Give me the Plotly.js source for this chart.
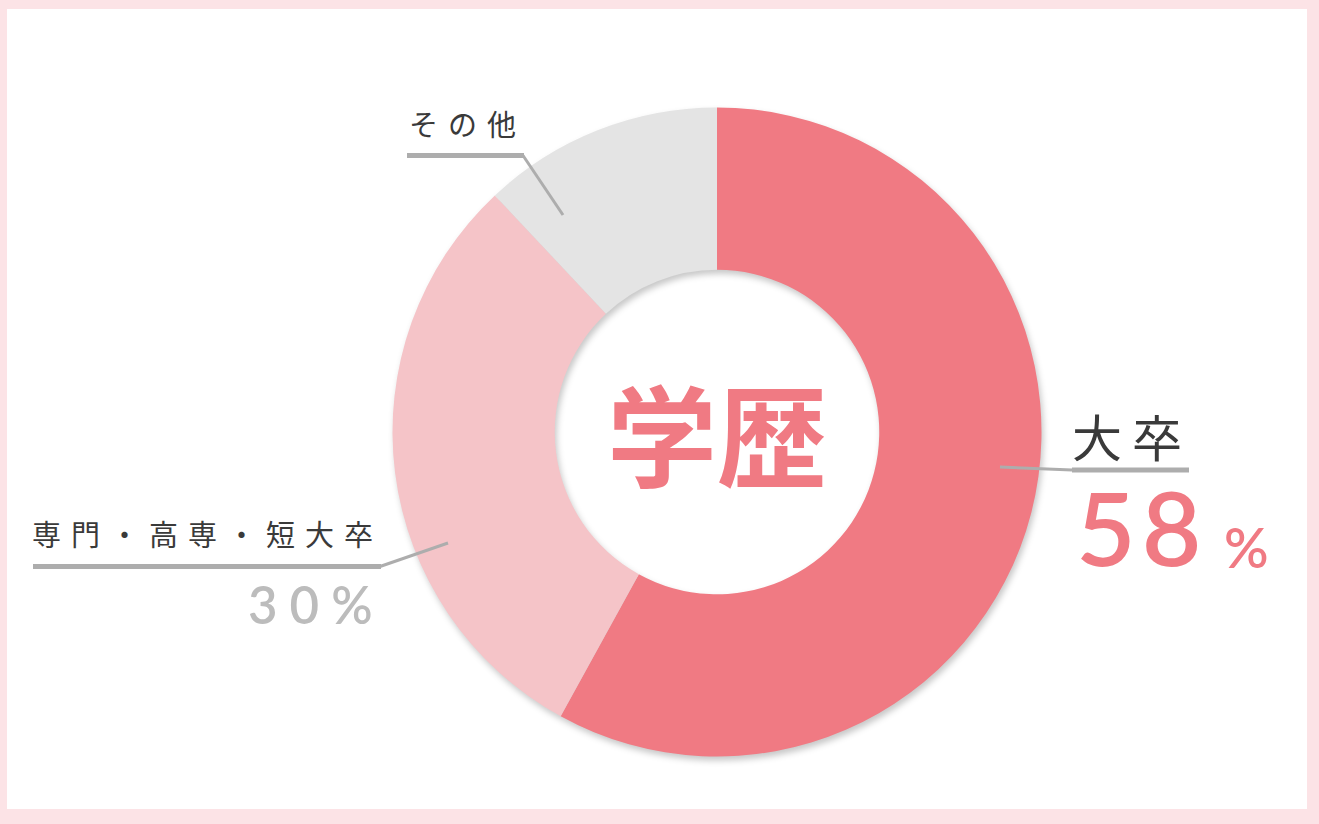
<!DOCTYPE html>
<html>
<head>
<meta charset="utf-8">
<script src="https://cdn.plot.ly/plotly-3.0.1.min.js"></script>
<style>
  html, body { margin: 0; padding: 0; background: #fce3e6; }
  #chart { width: 1319px; height: 824px; }
  .pielayer { filter: drop-shadow(2px 4px 3px rgba(0,0,0,0.22)); }
  g.annotation[data-index="1"] text { letter-spacing: 10px; }
  g.annotation[data-index="2"] text { letter-spacing: 6px; }
  g.annotation[data-index="4"] text { letter-spacing: 10px; }
  g.annotation[data-index="5"] text { letter-spacing: 12px; }
  g.annotation[data-index="6"] text { letter-spacing: 10px; }
</style>
</head>
<body>
<div id="chart"></div>
<script>
// ---- data ----
const categories = ['大卒', '専門・高専・短大卒', 'その他'];
const shares = [58, 30, 12];
const sliceColors = ['#f07a83', '#f5c4c8', '#e4e4e4'];
const centerTitle = '学歴';
const pctSuffix = '%';

const W = 1319, H = 824;
const cx = 717, cy = 432, R = 324.5;

const pie = {
  type: 'pie',
  labels: categories,
  values: shares,
  sort: false,
  direction: 'clockwise',
  rotation: 0,
  hole: 0.5,
  textinfo: 'none',
  hoverinfo: 'none',
  showlegend: false,
  marker: { colors: sliceColors, line: { width: 0 } },
  domain: { x: [(cx - R) / W, (cx + R) / W], y: [1 - (cy + R) / H, 1 - (cy - R) / H] }
};

const grey = '#adadad';
const labelColor = '#3a3a3a';
const cjk = '"Noto Sans CJK JP", "Noto Sans", sans-serif';
const num = 'Lato, "Open Sans", sans-serif';

const shapes = [
  { type: 'rect', layer: 'below', xref: 'x', yref: 'y', x0: 7, x1: 1307, y0: 9, y1: 809, fillcolor: '#ffffff', line: { width: 0 } },
  // 大卒
  { type: 'line', xref: 'x', yref: 'y', x0: 1000, y0: 467, x1: 1072, y1: 470, line: { color: grey, width: 3 } },
  { type: 'line', xref: 'x', yref: 'y', x0: 1072, y0: 470, x1: 1189, y1: 470, line: { color: grey, width: 5 } },
  // 専門
  { type: 'line', xref: 'x', yref: 'y', x0: 448, y0: 543, x1: 380, y1: 566.5, line: { color: grey, width: 3 } },
  { type: 'line', xref: 'x', yref: 'y', x0: 33, y0: 566.5, x1: 381, y1: 566.5, line: { color: grey, width: 5 } },
  // その他
  { type: 'line', xref: 'x', yref: 'y', x0: 563, y0: 215, x1: 523, y1: 155.5, line: { color: grey, width: 3 } },
  { type: 'line', xref: 'x', yref: 'y', x0: 407, y0: 155.5, x1: 524, y1: 155.5, line: { color: grey, width: 5 } }
];

const annotations = [
  { text: centerTitle, x: cx, y: 431, font: { family: cjk, size: 110, color: sliceColors[0], weight: 700 } },
  { text: categories[0], x: 1131.5, y: 435, font: { family: cjk, size: 50, color: labelColor, weight: 400 } },
  { text: String(shares[0]), x: 1141.5, y: 526, font: { family: num, size: 103, color: sliceColors[0], weight: 600 } },
  { text: pctSuffix, x: 1246, y: 547, font: { family: num, size: 55, color: sliceColors[0], weight: 600 } },
  { text: categories[1], x: 207.5, y: 533, font: { family: cjk, size: 29, color: labelColor, weight: 400 } },
  { text: shares[1] + pctSuffix, x: 316, y: 604, font: { family: num, size: 51, color: '#bcbcbc', weight: 600 } },
  { text: categories[2], x: 467.5, y: 123, font: { family: cjk, size: 29, color: labelColor, weight: 400 } }
].map(a => Object.assign({ xref: 'x', yref: 'y', showarrow: false, xanchor: 'center', yanchor: 'middle' }, a));

const layout = {
  width: W, height: H,
  margin: { l: 0, r: 0, t: 0, b: 0, pad: 0 },
  paper_bgcolor: '#fce3e6',
  plot_bgcolor: 'rgba(0,0,0,0)',
  xaxis: { range: [0, W], visible: false, fixedrange: true, domain: [0, 1] },
  yaxis: { range: [H, 0], visible: false, fixedrange: true, domain: [0, 1] },
  shapes: shapes,
  annotations: annotations,
  showlegend: false
};

Plotly.newPlot('chart', [pie], layout, { staticPlot: true, displayModeBar: false });
</script>
</body>
</html>
